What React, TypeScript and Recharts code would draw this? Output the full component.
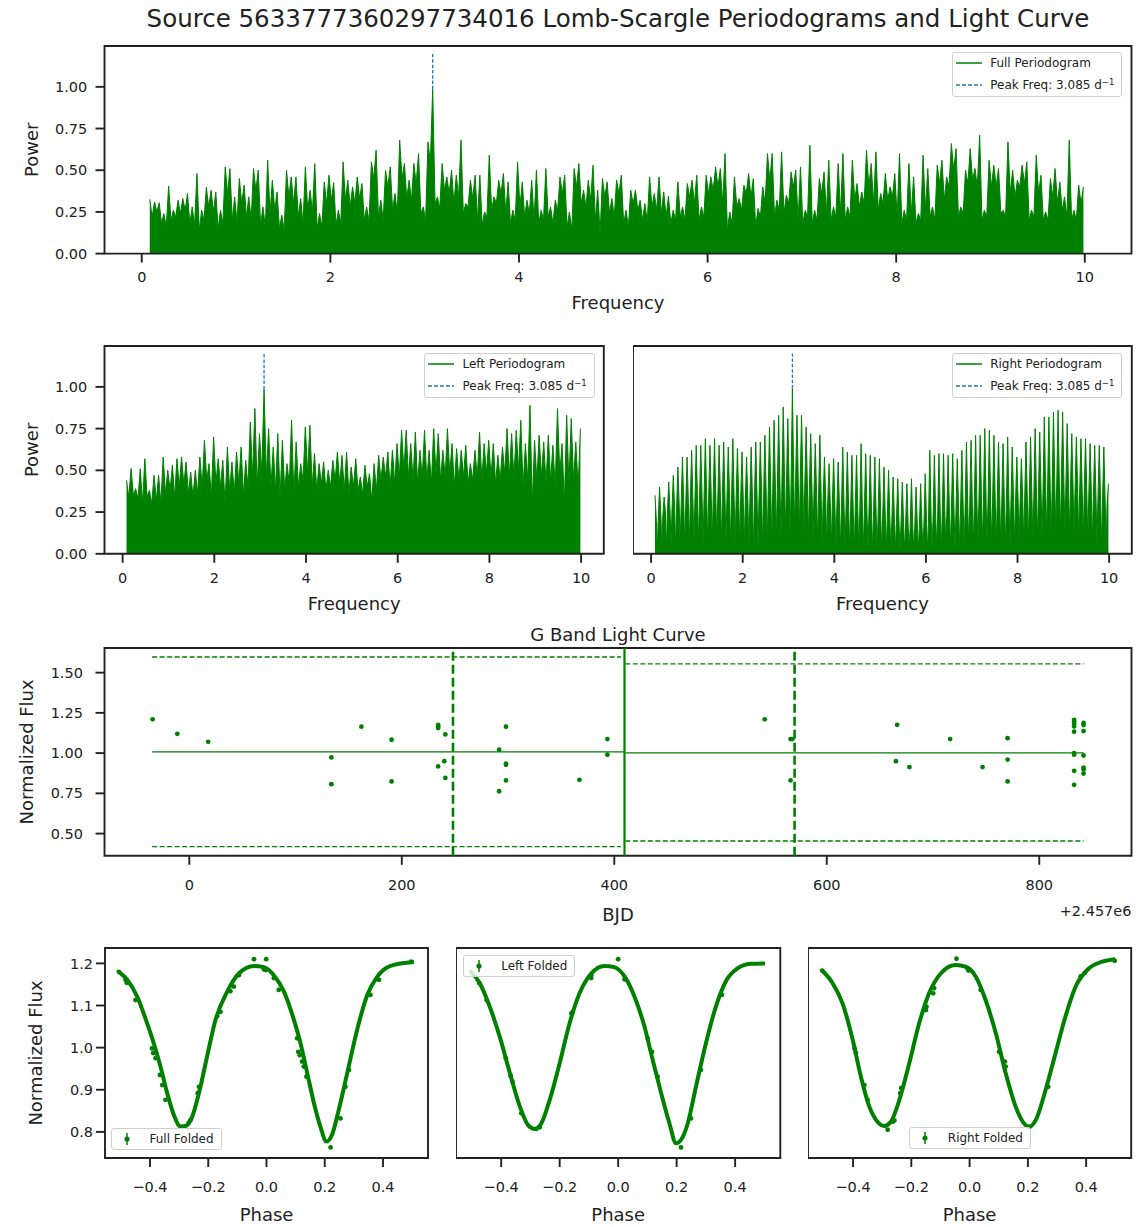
import React from "react";
import {
  ComposedChart,
  Area,
  Line,
  Scatter,
  XAxis,
  YAxis,
  ReferenceLine,
  ReferenceArea,
  Legend,
  Label,
} from "recharts";

const GREEN = "#008000";
const BLUE = "#1f77b4";
const INK = "#222222";

// ---- periodograms (power, peak / trough pairs) ----
const PEAK_FREQ = 3.085;
const FULL_F0 = 0.085;
const FULL_DF = 0.05;
const HALF_F0 = 0.085;
const HALF_DF = 0.1;

const fullPeaks = [
  0.325, 0.31, 0.305, 0.24, 0.405, 0.26, 0.32, 0.33, 0.36, 0.28,
  0.48, 0.26, 0.397, 0.38, 0.37, 0.26, 0.52, 0.51, 0.34, 0.45,
  0.41, 0.34, 0.51, 0.5, 0.28, 0.56, 0.44, 0.37, 0.23, 0.5,
  0.46, 0.46, 0.33, 0.52, 0.38, 0.54, 0.24, 0.43, 0.47, 0.425,
  0.26, 0.55, 0.44, 0.4, 0.46, 0.42, 0.28, 0.55, 0.62, 0.32,
  0.5, 0.52, 0.36, 0.68, 0.54, 0.44, 0.54, 0.6, 0.28, 0.67,
  0.985, 0.34, 0.54, 0.46, 0.5, 0.47, 0.68, 0.3, 0.44, 0.47,
  0.47, 0.25, 0.59, 0.34, 0.44, 0.48, 0.43, 0.26, 0.55, 0.43,
  0.32, 0.44, 0.5, 0.26, 0.51, 0.28, 0.32, 0.46, 0.47, 0.25,
  0.51, 0.54, 0.38, 0.44, 0.53, 0.38, 0.45, 0.43, 0.33, 0.44,
  0.47, 0.26, 0.38, 0.38, 0.32, 0.3, 0.46, 0.36, 0.46, 0.37,
  0.345, 0.26, 0.43, 0.28, 0.42, 0.44, 0.47, 0.28, 0.47, 0.46,
  0.52, 0.51, 0.6, 0.25, 0.46, 0.33, 0.41, 0.48, 0.45, 0.27,
  0.4, 0.6, 0.6, 0.32, 0.61, 0.35, 0.49, 0.5, 0.52, 0.26,
  0.65, 0.26, 0.45, 0.49, 0.56, 0.28, 0.54, 0.6, 0.28, 0.56,
  0.42, 0.37, 0.62, 0.54, 0.61, 0.36, 0.48, 0.4, 0.48, 0.6,
  0.26, 0.54, 0.46, 0.24, 0.59, 0.51, 0.28, 0.53, 0.56, 0.46,
  0.66, 0.63, 0.28, 0.5, 0.63, 0.51, 0.71, 0.26, 0.56, 0.53,
  0.51, 0.26, 0.67, 0.5, 0.44, 0.53, 0.55, 0.26, 0.59, 0.47,
  0.25, 0.45, 0.51, 0.43, 0.34, 0.68, 0.26, 0.41, 0.4,
];
const fullTroughs = [
  0.22, 0.25, 0.18, 0.16, 0.2, 0.22, 0.24, 0.26, 0.18, 0.17,
  0.14, 0.2, 0.28, 0.25, 0.15, 0.18, 0.36, 0.2, 0.19, 0.3,
  0.22, 0.2, 0.38, 0.17, 0.16, 0.24, 0.26, 0.15, 0.14, 0.34,
  0.3, 0.22, 0.18, 0.26, 0.25, 0.15, 0.16, 0.3, 0.32, 0.17,
  0.18, 0.32, 0.28, 0.3, 0.33, 0.2, 0.19, 0.45, 0.22, 0.2,
  0.4, 0.26, 0.24, 0.45, 0.33, 0.32, 0.42, 0.24, 0.2, 0.55,
  0.3, 0.27, 0.38, 0.36, 0.3, 0.34, 0.24, 0.28, 0.33, 0.2,
  0.17, 0.22, 0.26, 0.3, 0.36, 0.24, 0.18, 0.2, 0.28, 0.22,
  0.24, 0.2, 0.18, 0.2, 0.22, 0.18, 0.26, 0.36, 0.16, 0.14,
  0.4, 0.3, 0.28, 0.32, 0.2, 0.12, 0.34, 0.24, 0.22, 0.36,
  0.18, 0.16, 0.3, 0.26, 0.2, 0.19, 0.28, 0.26, 0.24, 0.22,
  0.18, 0.2, 0.22, 0.2, 0.34, 0.3, 0.2, 0.22, 0.36, 0.38,
  0.4, 0.3, 0.14, 0.18, 0.28, 0.26, 0.36, 0.34, 0.16, 0.22,
  0.3, 0.44, 0.22, 0.26, 0.24, 0.3, 0.4, 0.2, 0.18, 0.22,
  0.18, 0.2, 0.36, 0.24, 0.2, 0.22, 0.24, 0.2, 0.22, 0.32,
  0.28, 0.3, 0.4, 0.3, 0.26, 0.3, 0.32, 0.34, 0.22, 0.18,
  0.2, 0.24, 0.18, 0.2, 0.26, 0.22, 0.2, 0.42, 0.32, 0.4,
  0.5, 0.22, 0.24, 0.42, 0.44, 0.4, 0.2, 0.22, 0.4, 0.4,
  0.24, 0.22, 0.36, 0.34, 0.4, 0.42, 0.2, 0.22, 0.36, 0.2,
  0.2, 0.34, 0.3, 0.26, 0.22, 0.2, 0.2, 0.3,
];

const leftPeaks = [
  0.44, 0.51, 0.39, 0.51, 0.57, 0.38, 0.47, 0.47, 0.58, 0.5,
  0.53, 0.57, 0.58, 0.55, 0.49, 0.5, 0.58, 0.68, 0.54, 0.7,
  0.57, 0.56, 0.64, 0.55, 0.61, 0.64, 0.56, 0.79, 0.87, 0.72,
  0.985, 0.75, 0.64, 0.72, 0.68, 0.54, 0.8, 0.67, 0.54, 0.76,
  0.77, 0.6, 0.54, 0.55, 0.5, 0.56, 0.61, 0.59, 0.61, 0.52,
  0.57, 0.46, 0.53, 0.48, 0.54, 0.59, 0.58, 0.61, 0.62, 0.66,
  0.74, 0.74, 0.66, 0.73, 0.62, 0.74, 0.62, 0.75, 0.72, 0.62,
  0.75, 0.66, 0.63, 0.62, 0.65, 0.54, 0.62, 0.73, 0.66, 0.68,
  0.66, 0.59, 0.64, 0.75, 0.72, 0.74, 0.8, 0.66, 0.89, 0.68,
  0.71, 0.67, 0.71, 0.65, 0.87, 0.66, 0.83, 0.81, 0.67, 0.75,
];
const leftTroughs = [
  0.34, 0.35, 0.33, 0.3, 0.34, 0.3, 0.32, 0.3, 0.36, 0.38,
  0.34, 0.4, 0.42, 0.36, 0.34, 0.36, 0.4, 0.44, 0.34, 0.42,
  0.4, 0.3, 0.38, 0.36, 0.42, 0.35, 0.4, 0.46, 0.4, 0.48,
  0.46, 0.4, 0.38, 0.34, 0.38, 0.42, 0.36, 0.4, 0.44, 0.48,
  0.4, 0.38, 0.42, 0.38, 0.4, 0.44, 0.42, 0.38, 0.36, 0.4,
  0.38, 0.36, 0.4, 0.32, 0.38, 0.44, 0.46, 0.4, 0.42, 0.46,
  0.5, 0.46, 0.44, 0.42, 0.46, 0.44, 0.42, 0.48, 0.44, 0.46,
  0.48, 0.4, 0.44, 0.46, 0.42, 0.44, 0.46, 0.44, 0.48, 0.46,
  0.42, 0.44, 0.48, 0.46, 0.45, 0.5, 0.4, 0.44, 0.3, 0.44,
  0.46, 0.42, 0.44, 0.4, 0.48, 0.3, 0.42, 0.44, 0.4,
];

const rightPeaks = [
  0.35, 0.4, 0.34, 0.43, 0.47, 0.52, 0.58, 0.58, 0.62, 0.65,
  0.65, 0.69, 0.65, 0.69, 0.65, 0.67, 0.64, 0.69, 0.63, 0.61,
  0.58, 0.64, 0.67, 0.67, 0.71, 0.76, 0.8, 0.83, 0.88, 0.81,
  0.99, 0.83, 0.83, 0.76, 0.72, 0.66, 0.71, 0.58, 0.54, 0.57,
  0.55, 0.64, 0.61, 0.59, 0.59, 0.66, 0.6, 0.59, 0.58, 0.57,
  0.52, 0.5, 0.46, 0.45, 0.43, 0.42, 0.45, 0.4, 0.42, 0.48,
  0.62, 0.59, 0.6, 0.6, 0.59, 0.6, 0.57, 0.62, 0.67, 0.68,
  0.71, 0.71, 0.75, 0.74, 0.71, 0.67, 0.66, 0.7, 0.64, 0.58,
  0.57, 0.67, 0.7, 0.75, 0.73, 0.82, 0.82, 0.85, 0.86, 0.85,
  0.78, 0.72, 0.7, 0.69, 0.69, 0.66, 0.65, 0.65, 0.64, 0.42,
];
const rightShoulders = [
  0.2, 0.22, 0.24, 0.25, 0.26, 0.28, 0.28, 0.3, 0.3, 0.31,
  0.32, 0.32, 0.33, 0.32, 0.33, 0.32, 0.32, 0.31, 0.32, 0.3,
  0.3, 0.31, 0.32, 0.33, 0.34, 0.36, 0.38, 0.4, 0.42, 0.4,
  0.44, 0.42, 0.4, 0.38, 0.36, 0.34, 0.32, 0.3, 0.28, 0.27,
  0.26, 0.26, 0.25, 0.24, 0.24, 0.24, 0.23, 0.22, 0.22, 0.21,
  0.2, 0.19, 0.18, 0.17, 0.16, 0.15, 0.15, 0.15, 0.16, 0.18,
  0.2, 0.21, 0.22, 0.23, 0.24, 0.24, 0.25, 0.26, 0.27, 0.28,
  0.29, 0.3, 0.3, 0.3, 0.29, 0.29, 0.28, 0.29, 0.3, 0.3,
  0.31, 0.32, 0.33, 0.34, 0.36, 0.38, 0.38, 0.4, 0.4, 0.4,
  0.38, 0.37, 0.36, 0.35, 0.34, 0.33, 0.32, 0.31, 0.3,
];
const rightNotches = [
  0.02, 0.03, 0.02, 0.04, 0.03, 0.05, 0.04, 0.06, 0.05, 0.06,
  0.05, 0.07, 0.06, 0.08, 0.06, 0.07, 0.05, 0.06, 0.04, 0.05,
  0.03, 0.02, 0.04, 0.03, 0.05, 0.06, 0.08, 0.1, 0.12, 0.1,
  0.14, 0.12, 0.1, 0.08, 0.07, 0.06, 0.05, 0.04, 0.04, 0.03,
  0.03, 0.04, 0.03, 0.02, 0.03, 0.02, 0.03, 0.02, 0.02, 0.03,
  0.02, 0.02, 0.03, 0.02, 0.02, 0.03, 0.02, 0.02, 0.03, 0.02,
  0.03, 0.04, 0.03, 0.05, 0.04, 0.03, 0.05, 0.04, 0.06, 0.05,
  0.06, 0.05, 0.07, 0.06, 0.05, 0.04, 0.05, 0.04, 0.05, 0.06,
  0.07, 0.06, 0.08, 0.09, 0.1, 0.12, 0.1, 0.13, 0.12, 0.14,
  0.12, 0.1, 0.09, 0.08, 0.07, 0.06, 0.05, 0.05, 0.04,
];

// ---- G band light curve (BJD - 2457000, normalised flux) ----
const lcTime = [
  -34.5, -11.3, 17.8, 133.7, 133.7, 162.0, 190.4, 190.4, 234.2, 234.2,
  234.2, 241.0, 234.2, 240.0, 241.0, 291.6, 298.1, 298.1, 298.1, 298.1,
  291.6, 367.2, 393.5, 393.5, 541.6, 565.9, 567.6, 565.9, 666.2, 665.1,
  677.8, 716.1, 746.6, 770.2, 770.2, 770.2, 832.8, 832.8, 832.8, 832.8,
  832.8, 832.8, 832.8, 832.8, 832.8, 841.7, 841.7, 841.7, 841.7, 841.7,
  841.7, 841.7,
];
const lcFlux = [
  1.21, 1.12, 1.07, 0.973, 0.807, 1.164, 1.083, 0.824, 1.176, 1.166,
  1.156, 1.116, 0.917, 0.95, 0.846, 1.021, 1.164, 0.934, 0.927, 0.83,
  0.763, 0.834, 1.087, 0.99, 1.21, 1.087, 1.087, 0.83, 1.176, 0.95,
  0.913, 1.087, 0.913, 1.093, 0.96, 0.824, 1.207, 1.197, 1.183, 1.166,
  1.133, 1.0, 0.99, 0.89, 0.803, 1.187, 1.174, 1.137, 0.985, 0.909,
  0.898, 0.873,
];
const lcSplit = 409.6;
const lcHalves = [
  { from: -35, to: 406.2, mean: 1.008, upper: 1.597, lower: 0.419, mid: 248.2 },
  { from: 410.4, to: 841.7, mean: 1.002, upper: 1.554, lower: 0.454, mid: 569.7 },
];

// ---- folded light curves: [phase, flux] ----
const fullFoldPts = [
  [-0.507, 1.18], [-0.484, 1.161], [-0.48, 1.154], [-0.45, 1.113], [-0.393, 0.998],
  [-0.389, 0.987], [-0.381, 0.975], [-0.366, 0.935], [-0.358, 0.911], [-0.347, 0.876],
  [-0.29, 0.812], [-0.267, 0.822], [-0.261, 0.828], [-0.236, 0.892], [-0.232, 0.907],
  [-0.169, 1.075], [-0.158, 1.085], [-0.124, 1.134], [-0.112, 1.145], [-0.095, 1.172],
  [-0.043, 1.21], [-0.009, 1.186], [-0.003, 1.184], [-0.001, 1.21], [0.025, 1.165],
  [0.042, 1.137], [0.105, 1.022], [0.109, 0.99], [0.114, 0.982], [0.122, 0.967],
  [0.128, 0.955], [0.137, 0.931], [0.22, 0.763], [0.254, 0.832], [0.271, 0.907],
  [0.283, 0.947], [0.357, 1.125], [0.386, 1.161], [0.497, 1.204],
];
const fullFoldFit = [
  [-0.507, 1.18], [-0.478, 1.161], [-0.444, 1.121], [-0.41, 1.058], [-0.387, 1.01],
  [-0.364, 0.955], [-0.341, 0.892], [-0.318, 0.84], [-0.295, 0.8125], [-0.278, 0.814],
  [-0.255, 0.836], [-0.232, 0.892], [-0.204, 0.979], [-0.175, 1.066], [-0.135, 1.133],
  [-0.095, 1.176], [-0.043, 1.194], [-0.009, 1.191], [0.025, 1.172], [0.06, 1.133],
  [0.094, 1.066], [0.117, 1.01], [0.14, 0.939], [0.163, 0.868], [0.185, 0.8125],
  [0.206, 0.777], [0.225, 0.793], [0.248, 0.852], [0.277, 0.939], [0.311, 1.042],
  [0.346, 1.125], [0.38, 1.168], [0.426, 1.194], [0.506, 1.203],
];
const leftFoldPts = [
  [-0.475, 1.153], [-0.45, 1.113], [-0.384, 0.975], [-0.368, 0.934], [-0.361, 0.919],
  [-0.331, 0.844], [-0.28, 0.807], [-0.268, 0.811], [-0.16, 1.081], [-0.155, 1.085],
  [-0.092, 1.172], [-0.092, 1.165], [0.0, 1.21], [0.022, 1.162], [0.101, 1.022],
  [0.116, 0.99], [0.135, 0.931], [0.215, 0.763], [0.249, 0.832], [0.283, 0.947],
  [0.355, 1.125],
];
const leftFoldFit = [
  [-0.507, 1.183], [-0.473, 1.153], [-0.439, 1.097], [-0.405, 1.026], [-0.37, 0.939],
  [-0.336, 0.86], [-0.308, 0.816], [-0.285, 0.807], [-0.263, 0.82], [-0.234, 0.876],
  [-0.2, 0.963], [-0.166, 1.058], [-0.132, 1.129], [-0.092, 1.176], [-0.047, 1.194],
  [-0.013, 1.191], [0.022, 1.169], [0.056, 1.121], [0.09, 1.05], [0.118, 0.971],
  [0.147, 0.892], [0.175, 0.821], [0.198, 0.773], [0.215, 0.781], [0.238, 0.82],
  [0.266, 0.907], [0.3, 1.01], [0.334, 1.097], [0.368, 1.157], [0.408, 1.188],
  [0.453, 1.199], [0.502, 1.2],
];
const rightFoldPts = [
  [-0.506, 1.183], [-0.395, 0.998], [-0.39, 0.987], [-0.361, 0.911], [-0.35, 0.876],
  [-0.281, 0.805], [-0.264, 0.824], [-0.258, 0.827], [-0.238, 0.892], [-0.235, 0.904],
  [-0.15, 1.089], [-0.148, 1.097], [-0.125, 1.129], [-0.122, 1.141], [-0.045, 1.211],
  [-0.007, 1.188], [-0.004, 1.183], [0.038, 1.137], [0.101, 0.99], [0.121, 0.967],
  [0.124, 0.955], [0.206, 0.812], [0.27, 0.907], [0.381, 1.169], [0.396, 1.178],
  [0.498, 1.206],
];
const rightFoldFit = [
  [-0.506, 1.183], [-0.47, 1.153], [-0.436, 1.105], [-0.401, 1.018], [-0.373, 0.931],
  [-0.344, 0.86], [-0.316, 0.824], [-0.293, 0.814], [-0.27, 0.824], [-0.241, 0.876],
  [-0.207, 0.963], [-0.173, 1.058], [-0.139, 1.129], [-0.099, 1.176], [-0.048, 1.196],
  [-0.013, 1.192], [0.021, 1.169], [0.055, 1.113], [0.09, 1.034], [0.124, 0.939],
  [0.158, 0.86], [0.187, 0.82], [0.204, 0.812], [0.227, 0.828], [0.261, 0.9],
  [0.295, 0.987], [0.329, 1.074], [0.364, 1.145], [0.409, 1.188], [0.455, 1.204],
  [0.5, 1.21],
];

// ticks / domains
const FREQ_DOMAIN = [-0.395, 10.495];
const FREQ_TICKS = [0, 2, 4, 6, 8, 10];
const POWER_DOMAIN = [0, 1.245];
const POWER_TICKS = [0, 0.25, 0.5, 0.75, 1.0];
const PEAK_LINE_TOP = 1.2;
const BJD_DOMAIN = [-79.8, 886.8];
const BJD_TICKS = [0, 200, 400, 600, 800];
const FLUX_DOMAIN = [0.362, 1.653];
const FLUX_TICKS = [0.5, 0.75, 1.0, 1.25, 1.5];
const PHASE_DOMAIN = [-0.5545, 0.5545];
const PHASE_TICKS = [-0.4, -0.2, 0, 0.2, 0.4];
const FOLD_DOMAIN = [0.738, 1.2365];
const FOLD_TICKS = [0.8, 0.9, 1.0, 1.1, 1.2];

// build series tables
const fullData: { f: number; p: number }[] = [];
fullPeaks.forEach((p, i) => {
  const f = FULL_F0 + FULL_DF * i;
  fullData.push({ f, p });
  if (i < fullTroughs.length) fullData.push({ f: f + FULL_DF / 2, p: fullTroughs[i] });
});
const leftData: { f: number; p: number }[] = [];
leftPeaks.forEach((p, i) => {
  const f = HALF_F0 + HALF_DF * i;
  leftData.push({ f, p });
  if (i < leftTroughs.length) leftData.push({ f: f + HALF_DF / 2, p: leftTroughs[i] });
});
const rightData: { f: number; p: number }[] = [];
rightPeaks.forEach((p, i) => {
  const f = HALF_F0 + HALF_DF * i;
  rightData.push({ f, p });
  if (i < rightNotches.length) {
    rightData.push({ f: f + 0.03, p: rightShoulders[i] });
    rightData.push({ f: f + 0.05, p: rightNotches[i] });
    rightData.push({ f: f + 0.07, p: rightShoulders[i] });
  }
});
const lcData = lcTime.map((t, i) => ({ x: t, y: lcFlux[i] }));
const toXY = (rows: number[][]) => rows.map(([x, y]) => ({ x, y }));

// layout (plot rectangles in page px)
type Box = { l: number; t: number; r: number; b: number };
const PAD = 10;
const XH = 75;
const B_FULL: Box = { l: 104.5, t: 45.7, r: 1131.5, b: 253.3 };
const B_LEFT: Box = { l: 104.5, t: 345.7, r: 603.8, b: 553.5 };
const B_RIGHT: Box = { l: 632.7, t: 345.7, r: 1131.5, b: 553.5 };
const B_LC: Box = { l: 104.5, t: 647.7, r: 1131.5, b: 855.5 };
const B_F1: Box = { l: 105, t: 948.3, r: 428, b: 1158.3 };
const B_F2: Box = { l: 455.7, t: 948.3, r: 780, b: 1158.3 };
const B_F3: Box = { l: 808.3, t: 948.3, r: 1131.5, b: 1158.3 };

const tickFont = { fontSize: 14.5, fill: INK };
const tickLn = { stroke: INK, strokeWidth: 1.9 };
const fmt2 = (v: number) => v.toFixed(2);
const fmtPhase = (v: number) => (v < 0 ? "\u2212" + Math.abs(v).toFixed(1) : v.toFixed(1));

const legendBox: React.CSSProperties = {
  background: "rgba(255,255,255,0.8)",
  border: "1.5px solid #d0d0d0",
  borderRadius: 3,
  fontSize: 12,
  color: INK,
  whiteSpace: "nowrap",
  fontFamily: "DejaVu Sans",
};

function PgLegend({ name }: { name: string }) {
  const row: React.CSSProperties = { display: "flex", alignItems: "center", height: 21.5 };
  return (
    <div style={{ ...legendBox, padding: "0 7px 0 3px" }}>
      <div style={row}>
        <svg width={26} height={6}>
          <line x1={0} y1={3} x2={26} y2={3} stroke={GREEN} strokeWidth={1.5} />
        </svg>
        <span style={{ marginLeft: 8.5 }}>{name}</span>
      </div>
      <div style={row}>
        <svg width={26} height={6}>
          <line x1={0} y1={3} x2={26} y2={3} stroke={BLUE} strokeWidth={1.5} strokeDasharray="4 2" />
        </svg>
        <span style={{ marginLeft: 8.5 }}>
          Peak Freq: {PEAK_FREQ.toFixed(3)} d
          <sup style={{ fontSize: 8.5, lineHeight: 0, verticalAlign: "0.5em" }}>{"\u2212"}1</sup>
        </span>
      </div>
    </div>
  );
}

function FoldLegend({ name }: { name: string }) {
  return (
    <div style={{ ...legendBox, padding: "0 7px 0 11px", display: "flex", alignItems: "center", height: 20 }}>
      <svg width={8} height={14}>
        <line x1={4} y1={1} x2={4} y2={13} stroke={GREEN} strokeWidth={1.5} />
        <circle cx={4} cy={7} r={2.6} fill={GREEN} />
      </svg>
      <span style={{ marginLeft: 18.5 }}>{name}</span>
    </div>
  );
}

function frame(xd: number[], yd: number[]) {
  return (
    <ReferenceArea
      x1={xd[0]}
      x2={xd[1]}
      y1={yd[0]}
      y2={yd[1]}
      fill="none"
      stroke={INK}
      strokeWidth={1.9}
      ifOverflow="visible"
    />
  );
}

function Periodogram({
  box,
  data,
  peaks,
  name,
  showY,
  legendAt,
  labelOffset,
}: {
  box: Box;
  data: { f: number; p: number }[];
  peaks: number[];
  name: string;
  showY: boolean;
  legendAt: [number, number];
  labelOffset: number;
}) {
  const yW = showY ? box.l : 0;
  const left = box.l - yW;
  const top = box.t - PAD;
  const peakPower = Math.max(...peaks);
  return (
    <div style={{ position: "absolute", left, top }}>
      <ComposedChart
        width={box.r - box.l + yW + PAD}
        height={box.b - box.t + PAD + XH}
        data={data}
        margin={{ top: PAD, right: PAD, bottom: 0, left: 0 }}
      >
        <XAxis
          dataKey="f"
          type="number"
          domain={FREQ_DOMAIN}
          ticks={FREQ_TICKS}
          allowDataOverflow
          interval={0}
          axisLine={false}
          tickLine={tickLn}
          tickSize={9}
          tickMargin={9.6}
          tick={tickFont}
          height={XH}
        >
          <Label value="Frequency" position="insideBottom" offset={labelOffset} fontSize={18} fill={INK} />
        </XAxis>
        {showY ? (
          <YAxis
            type="number"
            domain={POWER_DOMAIN}
            ticks={POWER_TICKS}
            allowDataOverflow
            interval={0}
            width={yW}
            axisLine={false}
            tickLine={tickLn}
            tickSize={9}
            tickMargin={8.3}
            tick={tickFont}
            tickFormatter={fmt2}
          >
            <Label
              value="Power"
              angle={-90}
              position="insideLeft"
              offset={31.8}
              fontSize={18}
              fill={INK}
              style={{ textAnchor: "middle" }}
            />
          </YAxis>
        ) : (
          <YAxis hide type="number" domain={POWER_DOMAIN} allowDataOverflow />
        )}
        <Area
          type="linear"
          dataKey="p"
          stroke={GREEN}
          strokeWidth={1}
          fill={GREEN}
          fillOpacity={1}
          dot={false}
          activeDot={false}
          isAnimationActive={false}
        />
        <ReferenceLine
          segment={[
            { x: PEAK_FREQ, y: peakPower },
            { x: PEAK_FREQ, y: PEAK_LINE_TOP },
          ]}
          stroke={BLUE}
          strokeWidth={1.3}
          strokeDasharray="3.5 1.8"
        />
        {frame(FREQ_DOMAIN, POWER_DOMAIN)}
        <Legend
          layout="horizontal"
          verticalAlign="middle"
          align="center"
          wrapperStyle={{ left: legendAt[0] - left, top: legendAt[1] - top, width: "auto", height: "auto" }}
          content={() => <PgLegend name={name} />}
        />
      </ComposedChart>
    </div>
  );
}

function LightCurve() {
  const box = B_LC;
  const yW = box.l;
  return (
    <div style={{ position: "absolute", left: 0, top: box.t - PAD }}>
      <ComposedChart
        width={box.r - box.l + yW + PAD}
        height={box.b - box.t + PAD + XH}
        margin={{ top: PAD, right: PAD, bottom: 0, left: 0 }}
      >
        <XAxis
          dataKey="x"
          type="number"
          domain={BJD_DOMAIN}
          ticks={BJD_TICKS}
          allowDataOverflow
          interval={0}
          axisLine={false}
          tickLine={tickLn}
          tickSize={9}
          tickMargin={14.8}
          tick={tickFont}
          height={XH}
        >
          <Label value="BJD" position="insideBottom" offset={9.8} fontSize={18} fill={INK} />
        </XAxis>
        <YAxis
          dataKey="y"
          type="number"
          domain={FLUX_DOMAIN}
          ticks={FLUX_TICKS}
          allowDataOverflow
          interval={0}
          width={yW}
          axisLine={false}
          tickLine={tickLn}
          tickSize={9}
          tickMargin={12.6}
          tick={tickFont}
          tickFormatter={fmt2}
        >
          <Label
            value="Normalized Flux"
            angle={-90}
            position="insideLeft"
            offset={26.4}
            fontSize={18}
            fill={INK}
            style={{ textAnchor: "middle" }}
          />
        </YAxis>
        {lcHalves.map((h, i) => (
          <ReferenceLine
            key={"m" + i}
            segment={[
              { x: h.from, y: h.mean },
              { x: i === 0 ? lcSplit : h.to, y: h.mean },
            ]}
            stroke={GREEN}
            strokeWidth={1.2}
          />
        ))}
        {lcHalves.flatMap((h, i) => [
          <ReferenceLine
            key={"u" + i}
            segment={[
              { x: h.from, y: h.upper },
              { x: h.to, y: h.upper },
            ]}
            stroke={GREEN}
            strokeWidth={1.3}
            strokeDasharray="5 2.5"
          />,
          <ReferenceLine
            key={"l" + i}
            segment={[
              { x: h.from, y: h.lower },
              { x: h.to, y: h.lower },
            ]}
            stroke={GREEN}
            strokeWidth={1.3}
            strokeDasharray="5 2.5"
          />,
          <ReferenceLine key={"v" + i} x={h.mid} stroke={GREEN} strokeWidth={2.6} strokeDasharray="9 4" />,
        ])}
        <ReferenceLine x={lcSplit} stroke={GREEN} strokeWidth={2.2} />
        <Scatter
          data={lcData}
          dataKey="y"
          fill={GREEN}
          isAnimationActive={false}
          shape={(p: any) => <circle cx={p.cx} cy={p.cy} r={2.4} fill={GREEN} />}
        />
        {frame(BJD_DOMAIN, FLUX_DOMAIN)}
      </ComposedChart>
    </div>
  );
}

function Folded({
  box,
  fit,
  pts,
  name,
  showY,
  legendAt,
}: {
  box: Box;
  fit: number[][];
  pts: number[][];
  name: string;
  showY: boolean;
  legendAt: [number, number];
}) {
  const yW = showY ? box.l : 0;
  const left = box.l - yW;
  const top = box.t - PAD;
  return (
    <div style={{ position: "absolute", left, top }}>
      <ComposedChart
        width={box.r - box.l + yW + PAD}
        height={box.b - box.t + PAD + XH}
        data={toXY(fit)}
        margin={{ top: PAD, right: PAD, bottom: 0, left: 0 }}
      >
        <XAxis
          dataKey="x"
          type="number"
          domain={PHASE_DOMAIN}
          ticks={PHASE_TICKS}
          allowDataOverflow
          interval={0}
          axisLine={false}
          tickLine={tickLn}
          tickSize={9}
          tickMargin={14.4}
          tick={tickFont}
          tickFormatter={fmtPhase}
          height={XH}
        >
          <Label value="Phase" position="insideBottom" offset={11.6} fontSize={18} fill={INK} />
        </XAxis>
        {showY ? (
          <YAxis
            dataKey="y"
            type="number"
            domain={FOLD_DOMAIN}
            ticks={FOLD_TICKS}
            allowDataOverflow
            interval={0}
            width={yW}
            axisLine={false}
            tickLine={tickLn}
            tickSize={9}
            tickMargin={3}
            tick={tickFont}
            tickFormatter={(v: number) => v.toFixed(1)}
          >
            <Label
              value="Normalized Flux"
              angle={-90}
              position="insideLeft"
              offset={35.5}
              fontSize={18}
              fill={INK}
              style={{ textAnchor: "middle" }}
            />
          </YAxis>
        ) : (
          <YAxis hide dataKey="y" type="number" domain={FOLD_DOMAIN} allowDataOverflow />
        )}
        <Scatter
          data={toXY(pts)}
          dataKey="y"
          fill={GREEN}
          isAnimationActive={false}
          shape={(p: any) => <circle cx={p.cx} cy={p.cy} r={2.4} fill={GREEN} />}
        />
        <Line
          type="monotone"
          dataKey="y"
          stroke={GREEN}
          strokeWidth={4}
          dot={false}
          activeDot={false}
          isAnimationActive={false}
        />
        {frame(PHASE_DOMAIN, FOLD_DOMAIN)}
        <Legend
          layout="horizontal"
          verticalAlign="middle"
          align="center"
          wrapperStyle={{ left: legendAt[0] - left, top: legendAt[1] - top, width: "auto", height: "auto" }}
          content={() => <FoldLegend name={name} />}
        />
      </ComposedChart>
    </div>
  );
}

export default function App() {
  return (
    <div
      style={{
        position: "absolute",
        left: 0,
        top: 0,
        width: 1140,
        height: 1227,
        overflow: "hidden",
        background: "#fff",
        fontFamily: "'DejaVu Sans', sans-serif",
        color: INK,
      }}
    >
      <div
        style={{
          position: "absolute",
          left: 618,
          top: 7,
          transform: "translateX(-50%)",
          whiteSpace: "nowrap",
          fontSize: 24.5,
          lineHeight: "24.5px",
        }}
      >
        Source 5633777360297734016 Lomb-Scargle Periodograms and Light Curve
      </div>
      <Periodogram box={B_FULL} data={fullData} peaks={fullPeaks} name="Full Periodogram" showY legendAt={[951.7, 51.7]} labelOffset={20} />
      <Periodogram box={B_LEFT} data={leftData} peaks={leftPeaks} name="Left Periodogram" showY legendAt={[424, 352.7]} labelOffset={19.2} />
      <Periodogram box={B_RIGHT} data={rightData} peaks={rightPeaks} name="Right Periodogram" showY={false} legendAt={[951.7, 352.7]} labelOffset={19.2} />
      <div
        style={{
          position: "absolute",
          left: 618,
          top: 625.5,
          transform: "translateX(-50%)",
          whiteSpace: "nowrap",
          fontSize: 18,
          lineHeight: "18px",
        }}
      >
        G Band Light Curve
      </div>
      <LightCurve />
      <div
        style={{
          position: "absolute",
          right: 8.5,
          top: 903.7,
          whiteSpace: "nowrap",
          fontSize: 14.5,
          lineHeight: "14.5px",
        }}
      >
        +2.457e6
      </div>
      <Folded box={B_F1} fit={fullFoldFit} pts={fullFoldPts} name="Full Folded" showY legendAt={[111, 1127.7]} />
      <Folded box={B_F2} fit={leftFoldFit} pts={leftFoldPts} name="Left Folded" showY={false} legendAt={[462.7, 955]} />
      <Folded box={B_F3} fit={rightFoldFit} pts={rightFoldPts} name="Right Folded" showY={false} legendAt={[909.3, 1127.3]} />
    </div>
  );
}
